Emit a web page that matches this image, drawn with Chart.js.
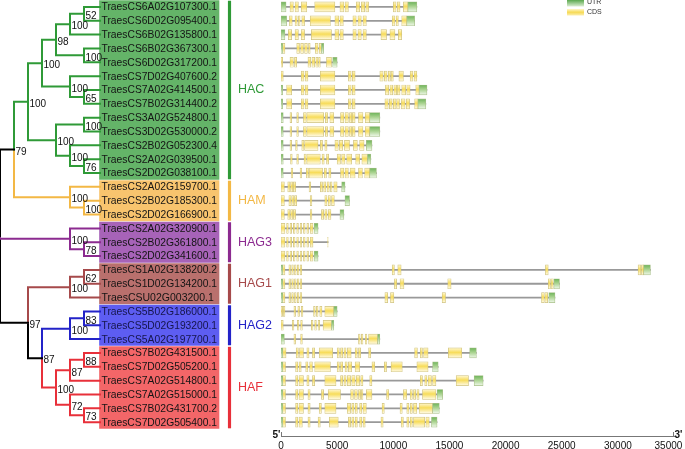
<!DOCTYPE html>
<html>
<head>
<meta charset="utf-8">
<script src="https://cdn.jsdelivr.net/npm/chart.js@4.4.1/dist/chart.umd.min.js"></script>
<style>
  html, body { margin: 0; padding: 0; background: #fff; overflow: hidden; width: 685px; height: 449px; }
  #tree { position: absolute; left: 0; top: 0; z-index: 1; }
  #genes { position: absolute; left: 270px; top: 0; z-index: 2; }
</style>
</head>
<body>
<canvas id="tree" width="285" height="449"></canvas>
<canvas id="genes" width="430" height="449"></canvas>
<script>
// tree (newick, bootstrap values as internal labels)
const newick =
  "((((((((TraesCS6A02G107300.1,TraesCS6D02G095400.1)52,TraesCS6B02G135800.1)100," +
  "(TraesCS6B02G367300.1,TraesCS6D02G317200.1)100)98," +
  "(TraesCS7D02G407600.2,(TraesCS7A02G414500.1,TraesCS7B02G314400.2)65)100)100," +
  "((TraesCS3A02G524800.1,TraesCS3D02G530000.2)100," +
  "(TraesCS2B02G052300.4,(TraesCS2A02G039500.1,TraesCS2D02G038100.1)76)100)100)100," +
  "(TraesCS2A02G159700.1,(TraesCS2B02G185300.1,TraesCS2D02G166900.1)100)100)79," +
  "(TraesCS2A02G320900.1,(TraesCS2B02G361800.1,TraesCS2D02G341600.1)78)100," +
  "(((TraesCS1A02G138200.2,TraesCS1D02G134200.1)62,TraesCSU02G003200.1)100," +
  "(((TraesCS5B02G186000.1,TraesCS5D02G193200.1)83,TraesCS5A02G197700.1)100," +
  "(((TraesCS7B02G431500.1,TraesCS7D02G505200.1)88,TraesCS7A02G514800.1)87," +
  "(TraesCS7A02G515000.1,(TraesCS7B02G431700.2,TraesCS7D02G505400.1)73)72)100)87)97);";

const cladeNames = ['HAC', 'HAM', 'HAG3', 'HAG1', 'HAG2', 'HAF'];
const cladeSizes = [13, 3, 3, 3, 3, 6];

// gene structures (bp), one entry per leaf in tree order
const geneLength = [12100, 11900, 10750, 3800, 5000, 12100, 13000, 12900, 8800, 8800, 8100, 8000, 8500,
  5700, 6100, 5600, 3300, 4200, 3300, 32900, 24800, 24400, 5000, 4700, 8800,
  17400, 14000, 18000, 14400, 14100, 13900];

const utrExons = [
  [[0, 450], [11300, 12100]], [[0, 500], [11200, 11900]], [[0, 350]], [[0, 150], [3600, 3800]],
  [[4600, 5000]], [], [[0, 150], [12300, 13000]], [[0, 150], [12200, 12900]],
  [[0, 200], [7900, 8800]], [[0, 200], [7900, 8800]], [[0, 200], [7600, 8100]], [[0, 200], [7700, 8000]],
  [[0, 200], [7900, 8500]], [[5400, 5700]], [[5700, 6100]], [[5250, 5600]],
  [[2950, 3300]], [], [[2950, 3300]], [[0, 150], [32300, 32900]],
  [[0, 150], [24300, 24800]], [[0, 150], [23850, 24400]], [[4700, 5000]], [[4500, 4700]],
  [[0, 300], [8600, 8800]], [[0, 150], [16800, 17400]], [[0, 150], [13500, 14000]], [[0, 150], [17200, 18000]],
  [[0, 150], [13900, 14400]], [[0, 150], [13500, 14100]], [[0, 150], [13400, 13900]]
];

const cdsExons = [
  [[800, 1100], [1250, 1550], [1800, 2300], [3000, 4800], [5250, 5600], [5700, 6000], [6700, 7000], [7150, 7450], [7550, 7800], [10000, 10250], [10350, 10600], [10900, 11300]],
  [[750, 1000], [1250, 1450], [1550, 1700], [1850, 2100], [2600, 4400], [4800, 5150], [5250, 5550], [6400, 6700], [6850, 7150], [7300, 7600], [9900, 10150], [10250, 10450], [10750, 11200]],
  [[650, 950], [1250, 1550], [1800, 2100], [2700, 4500], [4800, 5150], [5250, 5550], [6400, 6700], [6850, 7150], [7300, 7600], [8900, 9400], [9700, 10150], [10450, 10750]],
  [[150, 350], [1400, 1650], [1750, 2000], [2100, 2350], [2450, 2600], [3050, 3300], [3400, 3600]],
  [[0, 150], [800, 1100], [1200, 1400], [2400, 2650], [2750, 3000], [3100, 3300], [3350, 3500], [4050, 4500]],
  [[0, 200], [1800, 2050], [2150, 2400], [3500, 4800], [6000, 6250], [6350, 6600], [8800, 9100], [9200, 9450], [9550, 9750], [9800, 10000], [10500, 10900], [11500, 11750], [11850, 12100]],
  [[500, 950], [1800, 2050], [2150, 2400], [3500, 4800], [6000, 6250], [6350, 6600], [9300, 9600], [9700, 9950], [10050, 10300], [10350, 10600], [10750, 11100], [11200, 11500], [12000, 12300]],
  [[500, 950], [1800, 2050], [2150, 2400], [3500, 4800], [6000, 6250], [6350, 6600], [9250, 9550], [9650, 9900], [10000, 10250], [10300, 10550], [10700, 11050], [11150, 11450], [11900, 12200]],
  [[800, 950], [1400, 1550], [2000, 2250], [2300, 3800], [3950, 4150], [4350, 4700], [5300, 5600], [5700, 6000], [6100, 6300], [6350, 6600], [6900, 7300], [7500, 7900]],
  [[800, 950], [1400, 1550], [2000, 2250], [2300, 3800], [3950, 4150], [4350, 4700], [5300, 5600], [5700, 6000], [6100, 6300], [6350, 6600], [6900, 7300], [7500, 7900]],
  [[800, 950], [1300, 1450], [1850, 2050], [2100, 3300], [3500, 3700], [3900, 4100], [4800, 5100], [5200, 5500], [5650, 6100], [6450, 6800], [7000, 7400]],
  [[850, 1000], [1400, 1550], [2050, 2250], [2300, 3500], [3650, 3850], [4050, 4250], [5000, 5300], [5400, 5700], [5850, 6300], [6650, 7000], [7200, 7700]],
  [[900, 1050], [1700, 1850], [2250, 2450], [2500, 3700], [3850, 4050], [4250, 4450], [5300, 5600], [5700, 6000], [6150, 6600], [6900, 7250], [7450, 7900]],
  [[0, 300], [600, 800], [850, 1050], [1100, 1300], [2500, 2650], [3500, 3700], [3800, 4000], [4100, 4300], [4400, 4550], [4700, 5000]],
  [[0, 300], [700, 900], [950, 1150], [1200, 1400], [2600, 2750], [3900, 4100], [4200, 4400], [4500, 4750]],
  [[0, 300], [600, 800], [850, 1050], [1100, 1300], [2600, 2750], [3600, 3800], [3900, 4100], [4200, 4450]],
  [[0, 350], [500, 650], [800, 950], [1100, 1250], [1400, 1550], [1700, 1850], [2000, 2150], [2300, 2450], [2600, 2850]],
  [[0, 350], [500, 650], [800, 950], [1100, 1250], [1400, 1550], [1700, 1850], [2000, 2150], [2300, 2450], [2600, 2850], [4150, 4200]],
  [[0, 350], [500, 650], [800, 950], [1100, 1250], [1400, 1550], [1700, 1850], [2000, 2150], [2300, 2450], [2600, 2850]],
  [[150, 350], [700, 850], [950, 1100], [1200, 1350], [1450, 1600], [1700, 1850], [9900, 10100], [10400, 10700], [23550, 23800], [31800, 32050], [32100, 32300]],
  [[150, 350], [700, 850], [950, 1100], [1200, 1350], [1450, 1600], [1700, 1850], [10100, 10300], [10600, 10950], [14850, 15150], [23800, 24000], [24050, 24250]],
  [[150, 350], [700, 850], [950, 1100], [1200, 1350], [1450, 1600], [1700, 1850], [9250, 9500], [9750, 10050], [14350, 14650], [23200, 23450], [23500, 23750]],
  [[0, 150], [200, 350], [1150, 1300], [1500, 1650], [1800, 1950], [2900, 3050], [3150, 3300], [3450, 3650], [3900, 4700]],
  [[0, 200], [1000, 1150], [1450, 1600], [1750, 1900], [2700, 2850], [3000, 3150], [3300, 3450], [3750, 4500]],
  [[1150, 1300], [1750, 1900], [6900, 7050], [7150, 7300], [7500, 7650], [7800, 8600]],
  [[150, 450], [1350, 1550], [1650, 2000], [2300, 2500], [2800, 3000], [3400, 4600], [5000, 5200], [5300, 5500], [5600, 5800], [5900, 6250], [6600, 6800], [6900, 7100], [7800, 8000], [11900, 12150], [12400, 12600], [12700, 13100], [14900, 16100]],
  [[150, 400], [1300, 1500], [1600, 1800], [2200, 2400], [2550, 2800], [3000, 4400], [5000, 5200], [5300, 5500], [5700, 5900], [6000, 6300], [6600, 7000], [8100, 8350], [9200, 9400], [9800, 10800], [12100, 13100]],
  [[150, 400], [1300, 1500], [1600, 2000], [2300, 2500], [2800, 3000], [3900, 4900], [5300, 5500], [5600, 5800], [5900, 6200], [6300, 6600], [6700, 7000], [7100, 7300], [7900, 8100], [12400, 12600], [12800, 13000], [13100, 13400], [13500, 13800], [15600, 16700]],
  [[150, 400], [1300, 1500], [1600, 2000], [2400, 2600], [3600, 3800], [4200, 5300], [6200, 6450], [6550, 6800], [6900, 7100], [7150, 7300], [7600, 8100], [9400, 9600], [10900, 11200], [11500, 11700], [11800, 12000], [12100, 12300], [12600, 13800]],
  [[150, 400], [1300, 1500], [1600, 2000], [2400, 2600], [3400, 3600], [3900, 4900], [5900, 6200], [6300, 6500], [6600, 6800], [7000, 7200], [7300, 7600], [9000, 9200], [10600, 10800], [11200, 11400], [11500, 11700], [11800, 12100], [12300, 13500]],
  [[150, 400], [1300, 1500], [1600, 1900], [2400, 2600], [3300, 3500], [4300, 5100], [6000, 6200], [6300, 6500], [6600, 6800], [7000, 7200], [7300, 7500], [8900, 9100], [10700, 10900], [11200, 11400], [11500, 11700], [11800, 12800], [12900, 13200]]
];

const axisMax = 35000;
const axisStep = 5000;

// styles
const FONT = '"Liberation Sans", Arial, sans-serif';
const branchColors = ['#2f9a37', '#f3b845', '#8c2b90', '#a64a4b', '#2323c8', '#e8303a'];
const boxColors = ['#64b468', '#f8c46e', '#a763b8', '#b9706d', '#5d5df2', '#f36668'];
Chart.defaults.font.family = FONT;

// parse tree
function parseNewick(s) {
  let i = 0;
  function node() {
    const n = { children: [], label: '' };
    if (s[i] === '(') {
      i++;
      n.children.push(node());
      while (s[i] === ',') { i++; n.children.push(node()); }
      i++;
    }
    let lab = '';
    while (i < s.length && !',();'.includes(s[i])) lab += s[i++];
    n.label = lab;
    return n;
  }
  return node();
}

const root = parseNewick(newick);
const leaves = [], internals = [];
let leafRow = 0;
function layout(n) {
  if (!n.children.length) {
    n.row = leafRow++; n.h = 0; n.leaves = [n.row]; leaves.push(n); return;
  }
  n.children.forEach(layout);
  n.row = (n.children[0].row + n.children[n.children.length - 1].row) / 2;
  n.h = Math.max(...n.children.map(c => c.h)) + 1;
  n.leaves = [].concat(...n.children.map(c => c.leaves));
  internals.push(n);
}
layout(root);

const cladeOfRow = [], cladeStart = [];
cladeSizes.forEach((n, k) => { cladeStart.push(cladeOfRow.length); for (let j = 0; j < n; j++) cladeOfRow.push(k); });

const nodeX = n => n.children.length ? 98 - 14 * n.h : 100;
function nodeClade(n) {
  const s = new Set(n.leaves.map(r => cladeOfRow[r]));
  return s.size === 1 ? [...s][0] : -1;
}

const edgeSets = [];
function walk(n, parent) {
  if (parent) {
    const k = nodeClade(n);
    edgeSets.push({
      type: 'line',
      data: [
        { x: nodeX(parent), y: parent.row },
        { x: nodeX(parent), y: n.row },
        { x: nodeX(n), y: n.row }
      ],
      borderColor: k < 0 ? '#000' : branchColors[k],
      borderWidth: 2,
      borderCapStyle: 'square',
      borderJoinStyle: 'miter',
      pointRadius: 0,
      fill: false,
      tension: 0
    });
  }
  n.children.forEach(c => walk(c, n));
}
walk(root, null);

const treeText = {
  id: 'treeText',
  afterDatasetsDraw(chart) {
    const { ctx, scales: { x, y } } = chart;
    ctx.save();
    ctx.textAlign = 'left';
    ctx.textBaseline = 'middle';
    ctx.font = '10.5px ' + FONT;
    leaves.forEach(l => {
      ctx.fillStyle = cladeOfRow[l.row] === 4 ? '#15154a' : '#141414';
      ctx.fillText(l.label, x.getPixelForValue(101.5), y.getPixelForValue(l.row) + 0.5, 115.5);
    });
    ctx.font = '10px ' + FONT;
    ctx.fillStyle = '#111';
    internals.forEach(n => {
      if (n.label) ctx.fillText(n.label, x.getPixelForValue(nodeX(n)) + 1.5, y.getPixelForValue(n.row) + 2.5);
    });
    ctx.font = '12.5px ' + FONT;
    cladeNames.forEach((c, k) => {
      ctx.fillStyle = branchColors[k];
      const mid = cladeStart[k] + (cladeSizes[k] - 1) / 2;
      ctx.fillText(c, x.getPixelForValue(238), y.getPixelForValue(mid));
    });
    ctx.restore();
  }
};

new Chart(document.getElementById('tree'), {
  type: 'bar',
  data: {
    datasets: [
      ...edgeSets,
      {
        data: cladeNames.map((c, k) => ({ x: 229.5, y: [cladeStart[k] - 0.42, cladeStart[k] + cladeSizes[k] - 1 + 0.42] })),
        backgroundColor: branchColors,
        barThickness: 2.5,
        grouped: false
      },
      {
        data: cladeNames.map((c, k) => ({ x: 159.25, y: [cladeStart[k] - 0.46, cladeStart[k] + cladeSizes[k] - 1 + 0.46] })),
        backgroundColor: boxColors,
        barThickness: 119.5,
        grouped: false
      }
    ]
  },
  options: {
    responsive: false,
    animation: false,
    events: [],
    layout: { padding: { top: 0, left: 0, right: 0, bottom: 13 } },
    scales: {
      x: { type: 'linear', min: 0, max: 285, offset: false, display: false },
      y: { type: 'linear', min: -0.5, max: 31, reverse: true, offset: false, display: false }
    },
    plugins: { legend: { display: false }, tooltip: { enabled: false } }
  },
  plugins: [treeText]
});

// gene structure panel
function gradientFill(top, mid, bottom) {
  return ctx => {
    const ch = ctx.chart;
    const ys = ch.scales && ch.scales.y;
    if (ctx.type !== 'data' || !ys || !ctx.raw) return mid;
    const py = ys.getPixelForValue(ctx.raw.y);
    if (!isFinite(py)) return mid;
    const g = ch.ctx.createLinearGradient(0, py - 5, 0, py + 5);
    g.addColorStop(0, top);
    g.addColorStop(0.45, mid);
    g.addColorStop(1, bottom);
    return g;
  };
}

const utrData = [], cdsData = [];
utrExons.forEach((list, i) => list.forEach(e => utrData.push({ y: i, x: e })));
cdsExons.forEach((list, i) => list.forEach(e => cdsData.push({ y: i, x: e })));

const geneDecor = {
  id: 'geneDecor',
  afterDraw(chart) {
    const { ctx, scales: { x }, chartArea } = chart;
    const yA = chartArea.bottom;
    const x0 = x.getPixelForValue(0), x1 = x.getPixelForValue(axisMax);
    ctx.save();
    ctx.strokeStyle = '#777';
    ctx.lineWidth = 1;
    ctx.beginPath();
    ctx.moveTo(x0 + 0.5, yA - 4); ctx.lineTo(x0 + 0.5, yA);
    ctx.moveTo(x1 - 0.5, yA - 4); ctx.lineTo(x1 - 0.5, yA);
    ctx.stroke();
    ctx.fillStyle = '#111';
    ctx.font = 'bold 10px ' + FONT;
    ctx.textBaseline = 'middle';
    ctx.textAlign = 'right';
    ctx.fillText("5'", x0 - 0.5, yA - 1);
    ctx.textAlign = 'left';
    ctx.fillText("3'", x1 + 0.5, yA - 1);
    // legend
    let g = ctx.createLinearGradient(0, 0, 0, 7);
    g.addColorStop(0, '#5aa84e'); g.addColorStop(1, '#e6f3dc');
    ctx.fillStyle = g; ctx.fillRect(297, 0, 17, 6.5);
    g = ctx.createLinearGradient(0, 9, 0, 15.5);
    g.addColorStop(0, '#fff6c8'); g.addColorStop(0.5, '#f6da55'); g.addColorStop(1, '#fcefb0');
    ctx.fillStyle = g; ctx.fillRect(297, 9, 17, 6.5);
    ctx.fillStyle = '#333';
    ctx.font = '7px ' + FONT;
    ctx.fillText('UTR', 317, 2.5);
    ctx.fillText('CDS', 317, 12);
    ctx.restore();
  }
};

new Chart(document.getElementById('genes'), {
  type: 'bar',
  data: {
    datasets: [
      {
        label: 'UTR',
        data: utrData,
        backgroundColor: gradientFill('#6db35a', '#a9d38f', '#f0f8ea'),
        borderColor: '#a7bf88',
        borderWidth: 0.7,
        borderSkipped: false,
        barThickness: 10,
        grouped: false
      },
      {
        label: 'CDS',
        data: cdsData,
        backgroundColor: gradientFill('#fff7d0', '#f7dc5a', '#fffbe8'),
        borderColor: '#cfc27e',
        borderWidth: 0.7,
        borderSkipped: false,
        barThickness: 10,
        grouped: false
      },
      {
        label: 'gene',
        data: geneLength.map((L, i) => ({ y: i, x: [0, L] })),
        backgroundColor: '#999999',
        barThickness: 1.1,
        grouped: false
      }
    ]
  },
  options: {
    indexAxis: 'y',
    responsive: false,
    animation: false,
    events: [],
    layout: { padding: { top: 0, left: 11, right: 26, bottom: 0 } },
    scales: {
      x: {
        type: 'linear', min: 0, max: axisMax, offset: false,
        ticks: {
          stepSize: axisStep, padding: 4, color: '#111', font: { size: 10 }, maxRotation: 0,
          // last label nudged left so it stays inside the page, as in the original
          callback: v => v === axisMax ? String(v) + '\u2007\u2007' : String(v)
        },
        grid: { display: false, drawTicks: false },
        border: { display: true, color: '#777', width: 1 },
        afterFit(s) { s.height = 13; }
      },
      y: { type: 'linear', min: -0.5, max: 31, reverse: true, offset: false, display: false }
    },
    plugins: { legend: { display: false }, tooltip: { enabled: false } }
  },
  plugins: [geneDecor]
});
</script>
</body>
</html>
